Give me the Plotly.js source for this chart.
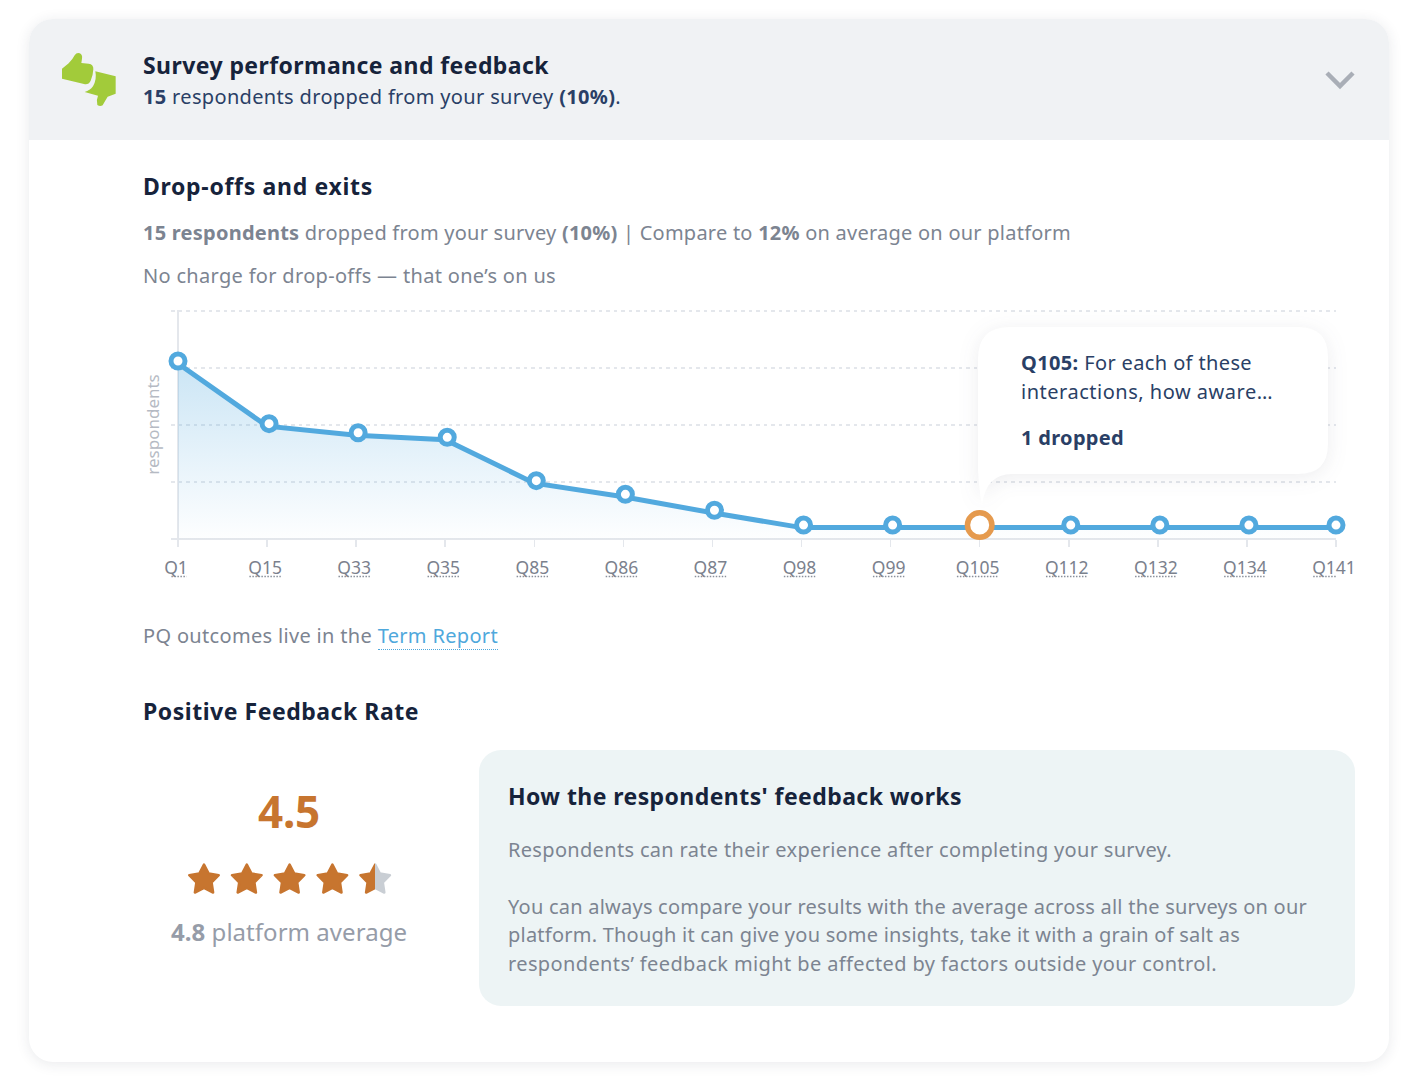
<!DOCTYPE html>
<html><head><meta charset="utf-8">
<script src="https://cdn.plot.ly/plotly-3.0.1.min.js"></script>
<style>
html,body{margin:0;padding:0;background:#fff;width:1424px;height:1092px;overflow:hidden;font-family:"Noto Sans",sans-serif}
#card{position:absolute;left:29px;top:19px;width:1360px;height:1043px;border-radius:24px;background:#fff;box-shadow:0 2px 14px rgba(40,50,70,.10);}
#head{position:absolute;left:29px;top:19px;width:1360px;height:121px;background:#f0f2f4;border-radius:24px 24px 0 0}
#box{position:absolute;left:479px;top:750px;width:876px;height:256px;border-radius:22px;background:#edf4f5}
#chart{position:absolute;left:130px;top:300px;width:1240px;height:290px}
.t{position:absolute;white-space:nowrap;line-height:1;transform:translateY(-50%);font-size:20px}
.t b{font-weight:700}
.h{font-weight:700;color:#16233b;font-size:23px}
.g{color:#7c8491}
.n{color:#2a3f66}
svg{position:absolute;overflow:visible}
</style></head><body>
<div id="card"></div><div id="head"></div><div id="box"></div>
<div id="chart"></div>

<svg style="left:50px;top:40px" width="80" height="80" viewBox="0 0 240 240">
<path fill="#a2cb3a" d="M36 86 L56 70 Q68 58 74 46 Q80 37 89 40 Q98 44 96 56 L94 69 L116 71 Q131 73 130 88 Q129 108 122 122 Q116 135 102 132 L36 116 Z"/>
<path fill="#a2cb3a" d="M136 94 L197 109 L197 161 L173 170 Q166 181 158 196 Q150 201 142 195 Q138 180 144 167 L104 156 Q120 152 129 139 Q141 118 136 94 Z"/>
</svg>
<svg style="left:1325px;top:71px" width="30" height="18" viewBox="0 0 30 18"><path d="M2 2 L15 15 L28 2" fill="none" stroke="#a9aeb6" stroke-width="4.5"/></svg>

<div class="t h" data-w="406" style="left:143px;top:65px">Survey performance and feedback</div>
<div class="t n" data-w="478" style="left:143px;top:97px"><b>15</b> respondents dropped from your survey <b>(10%)</b>.</div>
<div class="t h" data-w="230" style="left:143px;top:186px">Drop-offs and exits</div>
<div class="t g" data-w="928" style="left:143px;top:233px"><b>15 respondents</b> dropped from your survey <b>(10%)</b> | Compare to <b>12%</b> on average on our platform</div>
<div class="t g" data-w="413" style="left:143px;top:276px">No charge for drop-offs — that one’s on us</div>
<div class="t g" data-w="355" style="left:143px;top:636px">PQ outcomes live in the <span style="color:#4fa8dc;border-bottom:1.5px dotted #4fa8dc">Term Report</span></div>
<div class="t h" data-w="276" style="left:143px;top:711px">Positive Feedback Rate</div>
<div class="t h" data-w="454" style="left:508px;top:796px">How the respondents' feedback works</div>
<div class="t g" data-w="664" style="left:508px;top:850px">Respondents can rate their experience after completing your survey.</div>
<div class="t g" data-w="799" style="left:508px;top:907px">You can always compare your results with the average across all the surveys on our</div>
<div class="t g" data-w="732" style="left:508px;top:935px">platform. Though it can give you some insights, take it with a grain of salt as</div>
<div class="t g" data-w="709" style="left:508px;top:964px">respondents’ feedback might be affected by factors outside your control.</div>
<div class="t" data-w="62" style="left:258px;top:811px;font-size:44px;font-weight:700;color:#c7752f">4.5</div>
<div class="t" data-w="236" style="left:171px;top:932px;font-size:24px;color:#969ca8"><b>4.8</b> platform average</div>

<svg id="stars" style="left:0;top:0" width="1424" height="1092"></svg>

<svg style="left:0;top:0;filter:drop-shadow(0 3px 10px rgba(50,60,80,.09))" width="1424" height="1092">
<path fill="#fff" d="M1010 327 H1298 Q1328 327 1328 357 V444 Q1328 474 1298 474 H1012 Q986 474 982 505 Q979 490 978 470 V359 Q978 327 1010 327 Z"/>
</svg>
<div class="t n" data-w="231" style="left:1021px;top:363px"><b>Q105:</b> For each of these</div>
<div class="t n" data-w="252" style="left:1021px;top:392px">interactions, how aware…</div>
<div class="t n" data-w="103" style="left:1021px;top:438px"><b>1 dropped</b></div>

<script>
var questions = ["Q1","Q15","Q33","Q35","Q85","Q86","Q87","Q98","Q99","Q105","Q112","Q132","Q134","Q141"];
var respondents = [15.4,9.9,9.1,8.7,4.9,3.7,2.3,1,1,1,1,1,1,1];
var highlighted = "Q105";
var edgeQuestions = ["Q1","Q141"];
var ratingStars = [1,1,1,1,0.5];

var idx = questions.map(function(q,i){return i;});
function pick(test){
  var s = idx.filter(function(i){return test(questions[i]);});
  return {x:s, y:s.map(function(i){return respondents[i];})};
}
var edge = pick(function(q){return edgeQuestions.indexOf(q)>=0;});
var mid = pick(function(q){return edgeQuestions.indexOf(q)<0 && q!==highlighted;});
var hi = pick(function(q){return q===highlighted;});
var blue = "#52a9de";
var ring = function(size,color,w){return {size:size,color:"#fff",line:{color:color,width:w}};};

var traces = [
 {x:idx,y:respondents,mode:"lines",line:{color:blue,width:5},fill:"tozeroy",
  fillgradient:{type:"vertical",colorscale:[[0,"rgba(82,169,222,0.01)"],[1,"rgba(82,169,222,0.30)"]]},hoverinfo:"skip"},
 {x:mid.x,y:mid.y,xaxis:"x2",yaxis:"y2",mode:"markers",marker:ring(14,blue,5),cliponaxis:false},
 {x:edge.x,y:edge.y,xaxis:"x",yaxis:"y2",mode:"markers",marker:ring(14,blue,5),cliponaxis:false},
 {x:hi.x,y:hi.y,xaxis:"x",yaxis:"y2",mode:"markers",marker:ring(24.5,"#e59a4e",5.5),cliponaxis:false}
];
var left=-0.0786,right=13;
var labelW=function(q){return 11+(q.length-1)*10.2;};
var shapes = questions.map(function(q,i){
  var w=labelW(q);
  return {type:"line",xref:"x",yref:"paper",xsizemode:"pixel",ysizemode:"pixel",xanchor:i,yanchor:0,
    x0:-2-w/2,x1:-2+w/2,y0:-37.5,y1:-37.5,line:{color:"#8a909b",width:1.5,dash:"1.5px,1.5px"}};
});
var layout = {
 width:1240,height:290,margin:{l:41,r:34,t:10,b:50.7,pad:0},
 paper_bgcolor:"rgba(0,0,0,0)",plot_bgcolor:"rgba(0,0,0,0)",showlegend:false,hovermode:false,
 font:{family:"Noto Sans, sans-serif"},
 xaxis:{range:[left,right],tickmode:"array",tickvals:idx,ticktext:questions,ticks:"outside",ticklen:7,tickwidth:1.5,
   tickcolor:"#e4e7ec",showgrid:false,zeroline:true,zerolinecolor:"#e4e7ec",zerolinewidth:2,showline:false,
   tickfont:{size:17.5,color:"#7b818d"},ticklabelshift:-2,ticklabelstandoff:6,fixedrange:true},
 xaxis2:{overlaying:"x",range:[left-0.0224,right-0.0224],visible:false,fixedrange:true},
 yaxis:{range:[0,20.09],tick0:0,dtick:5,showticklabels:false,ticks:"",showgrid:true,gridcolor:"#e4e7ec",griddash:"3.5px,4px",gridwidth:1.5,
   zeroline:true,zerolinecolor:"#e4e7ec",zerolinewidth:2,showline:false,fixedrange:true,
   title:{text:"respondents",font:{size:17,color:"#b5bac3"},standoff:6}},
 yaxis2:{overlaying:"y",range:[-0.22,19.87],visible:false,fixedrange:true},
 shapes:shapes
};

// stars
var ns="http://www.w3.org/2000/svg", starsSvg=document.getElementById("stars");
var defs=document.createElementNS(ns,"defs");
defs.innerHTML='<linearGradient id="half"><stop offset="50%" stop-color="#c7752f"/><stop offset="50%" stop-color="#c9ced4"/></linearGradient>';
starsSvg.appendChild(defs);
function starPath(cx,cy){
  var d="",R=15.5,r=8;
  for(var k=0;k<10;k++){var a=-Math.PI/2+k*Math.PI/5,q=k%2?r:R;
    d+=(k?"L":"M")+(cx+q*Math.cos(a)).toFixed(2)+" "+(cy+q*Math.sin(a)).toFixed(2);}
  return d+"Z";
}
ratingStars.forEach(function(v,i){
  var p=document.createElementNS(ns,"path");
  p.setAttribute("d",starPath(204+i*42.8,880));
  p.setAttribute("fill",v===1?"#c7752f":"url(#half)");
  p.setAttribute("stroke",v===1?"#c7752f":"url(#half)");
  p.setAttribute("stroke-width","2.5");p.setAttribute("stroke-linejoin","round");
  starsSvg.appendChild(p);
});

// match line widths of the text
document.querySelectorAll("[data-w]").forEach(function(el){
  var n=el.textContent.length, w=el.getBoundingClientRect().width, t=+el.getAttribute("data-w");
  el.style.letterSpacing=((t-w)/n).toFixed(3)+"px";
});

Plotly.newPlot("chart",traces,layout,{displayModeBar:false,staticPlot:true});
</script>
</body></html>
